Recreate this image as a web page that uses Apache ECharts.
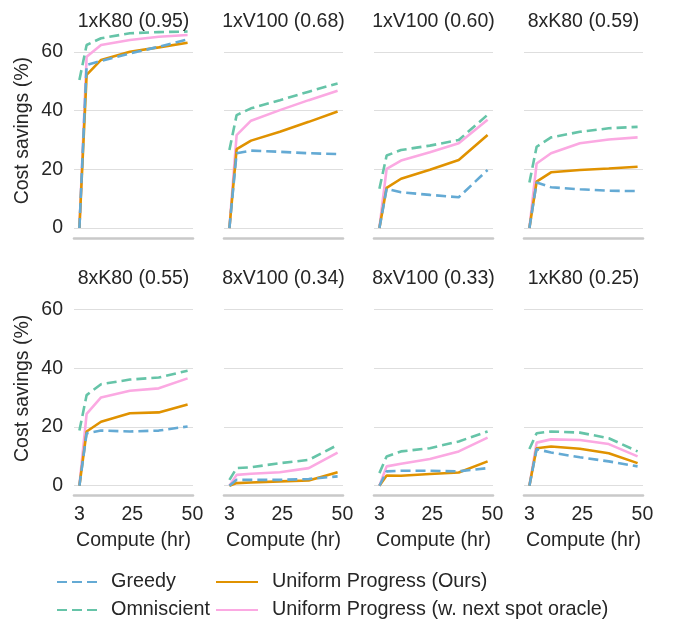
<!DOCTYPE html>
<html>
<head>
<meta charset="utf-8">
<script src="https://cdn.jsdelivr.net/npm/echarts@6/dist/echarts.min.js"></script>
<style>
    html, body { margin: 0; padding: 0; background: #fff; }
    #chart { width: 681px; height: 620px; }
</style>
</head>
<body>
<div id="chart"></div>
<script>
// compute hours on the x axis
var hours = [3, 6, 12, 24, 36, 48];
var xTicks = [3, 25, 50];
var yTicks = [0, 20, 40, 60];

var panelTitles = ['1xK80 (0.95)', '1xV100 (0.68)', '1xV100 (0.60)', '8xK80 (0.59)',
                   '8xK80 (0.55)', '8xV100 (0.34)', '8xV100 (0.33)', '1xK80 (0.25)'];

var seriesNames = ['Greedy', 'Omniscient', 'Uniform Progress (Ours)', 'Uniform Progress (w. next spot oracle)'];

// cost savings (%) per panel
var greedy = [
    [0, 55.6, 57.0, 59.5, 61.8, 64.3],
    [0, 25.5, 26.4, 26.0, 25.5, 25.2],
    [0, 13.4, 12.2, 11.3, 10.5, 19.8],
    [0, 15.5, 13.9, 13.2, 12.7, 12.6],
    [0, 17.9, 18.8, 18.5, 18.8, 20.2],
    [0, 2.0, 2.0, 2.0, 2.3, 3.2],
    [0, 4.9, 5.1, 5.1, 4.9, 6.0],
    [0, 12.5, 11.3, 9.7, 8.3, 6.6]
];
var omniscient = [
    [50.5, 62.4, 64.7, 66.4, 66.8, 67.0],
    [26.6, 38.5, 40.8, 43.6, 46.5, 49.3],
    [13.4, 24.7, 26.6, 28.1, 30.0, 38.6],
    [15.5, 27.7, 30.9, 32.8, 34.0, 34.5],
    [18.8, 30.9, 34.6, 36.2, 36.9, 39.2],
    [2.0, 6.0, 6.3, 7.7, 8.8, 13.9],
    [4.3, 10.0, 11.7, 12.8, 15.1, 18.5],
    [12.5, 17.9, 18.5, 18.1, 16.2, 11.7]
];
var uniform = [
    [0, 52.2, 57.3, 60.1, 61.6, 63.2],
    [0, 26.9, 29.8, 32.8, 36.2, 39.7],
    [0, 13.7, 16.8, 19.9, 23.2, 31.7],
    [0, 15.8, 19.0, 19.8, 20.3, 20.9],
    [0, 18.5, 21.8, 24.7, 25.0, 27.7],
    [0, 0.9, 1.1, 1.5, 1.8, 4.6],
    [0, 3.5, 3.4, 4.0, 4.5, 8.3],
    [0, 12.8, 13.4, 12.6, 11.1, 7.7]
];
var oracle = [
    [0, 58.4, 62.4, 64.1, 65.2, 65.8],
    [0, 31.7, 36.6, 40.2, 43.6, 46.8],
    [0, 20.2, 23.0, 25.8, 28.9, 36.9],
    [0, 22.0, 25.5, 28.9, 30.2, 30.9],
    [0, 24.5, 30.1, 32.4, 33.2, 36.6],
    [0, 3.7, 4.1, 4.6, 6.0, 11.3],
    [0, 6.6, 7.5, 9.1, 11.7, 16.4],
    [0, 14.7, 15.8, 15.6, 14.2, 10.0]
];

var font = "'Liberation Sans', Arial, sans-serif";
var textColor = '#262626';
var colors = {
    greedy: '#64aad4',
    omni: '#66c4a8',
    uniform: '#e09200',
    oracle: '#fba9e2'
};

var grids = [], xAxes = [], yAxes = [], titles = [], series = [];

function pairs(vals) {
    return hours.map(function(h, i) { return [h, vals[i]]; });
}

for (var p = 0; p < 8; p++) {
    var row = Math.floor(p / 4);
    var col = p % 4;
    var gridLeft = 74 + 150 * col;
    var gridTop = row === 0 ? 23.3 : 281;

    grids.push({ left: gridLeft, top: gridTop, width: 119, height: 214.7 });
    titles.push({
        text: panelTitles[p],
        left: gridLeft + 59.5,
        top: row === 0 ? 12 : 269,
        textAlign: 'center',
        padding: 0,
        textStyle: { fontSize: 19.5, fontWeight: 'normal', color: textColor, fontFamily: font }
    });
    xAxes.push({
        type: 'value',
        gridIndex: p,
        min: 0.75,
        max: 50.25,
        name: row === 1 ? 'Compute (hr)' : '',
        nameLocation: 'middle',
        nameGap: 35,
        nameTextStyle: { fontSize: 19.5, color: textColor, fontFamily: font },
        axisLine: { show: true, onZero: false, lineStyle: { color: '#c9c9c9', width: 2.6 } },
        axisTick: { show: false },
        splitLine: { show: false },
        axisLabel: {
            show: row === 1,
            customValues: xTicks,
            margin: 9,
            fontSize: 19.5,
            color: textColor,
            fontFamily: font
        }
    });
    yAxes.push({
        type: 'value',
        gridIndex: p,
        min: -3.4,
        max: 69.8,
        name: col === 0 ? 'Cost savings (%)' : '',
        nameLocation: 'middle',
        nameRotate: 90,
        nameGap: 41,
        nameTextStyle: { fontSize: 19.5, color: textColor, fontFamily: font },
        axisLine: { show: false },
        axisTick: { show: false, customValues: yTicks },
        splitLine: { show: true, lineStyle: { color: '#dedede', width: 1.2 } },
        axisLabel: {
            show: col === 0,
            customValues: yTicks,
            margin: 11,
            fontSize: 19.5,
            color: textColor,
            fontFamily: font
        }
    });

    // drawing order: oracle, omniscient, ours, greedy on top
    series.push({
        name: seriesNames[3], type: 'line', xAxisIndex: p, yAxisIndex: p,
        data: pairs(oracle[p]), symbol: 'none', color: colors.oracle,
        lineStyle: { width: 2.6, color: colors.oracle }
    });
    series.push({
        name: seriesNames[1], type: 'line', xAxisIndex: p, yAxisIndex: p,
        data: pairs(omniscient[p]), symbol: 'none', color: colors.omni,
        lineStyle: { width: 2.6, color: colors.omni, type: [10, 5] }
    });
    series.push({
        name: seriesNames[2], type: 'line', xAxisIndex: p, yAxisIndex: p,
        data: pairs(uniform[p]), symbol: 'none', color: colors.uniform,
        lineStyle: { width: 2.6, color: colors.uniform }
    });
    series.push({
        name: seriesNames[0], type: 'line', xAxisIndex: p, yAxisIndex: p,
        data: pairs(greedy[p]), symbol: 'none', color: colors.greedy,
        lineStyle: { width: 2.6, color: colors.greedy, type: [10, 5] }
    });
}

var legendText = { fontSize: 19.8, color: textColor, fontFamily: font };

var myChart = echarts.init(document.getElementById('chart'));
var option = {
    animation: false,
    backgroundColor: '#fff',
    title: titles,
    grid: grids,
    xAxis: xAxes,
    yAxis: yAxes,
    legend: [{
        orient: 'vertical',
        left: 56,
        top: 572,
        itemWidth: 40,
        itemHeight: 20,
        itemGap: 8,
        padding: 0,
        itemStyle: { opacity: 0 },
        data: [seriesNames[0], seriesNames[1]],
        textStyle: Object.assign({ padding: [0, 0, 0, 9] }, legendText)
    }, {
        orient: 'vertical',
        left: 215,
        top: 572,
        itemWidth: 42,
        itemHeight: 20,
        itemGap: 8,
        padding: 0,
        itemStyle: { opacity: 0 },
        data: [seriesNames[2], seriesNames[3]],
        textStyle: Object.assign({ padding: [0, 0, 0, 9] }, legendText)
    }],
    series: series
};
myChart.setOption(option);
</script>
</body>
</html>
